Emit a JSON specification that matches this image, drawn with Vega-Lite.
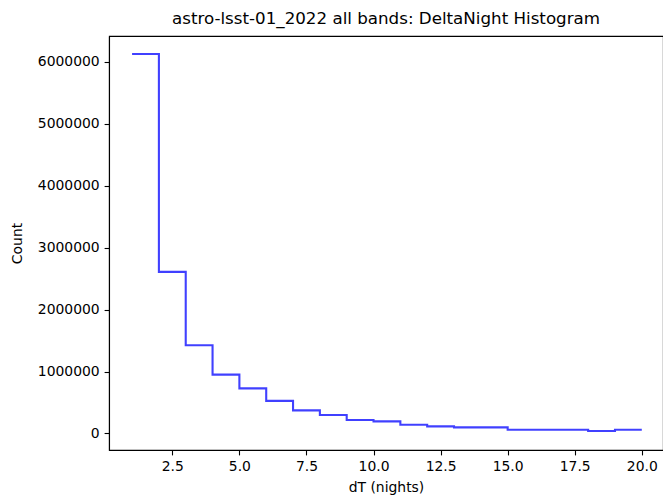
{
  "$schema": "https://vega.github.io/schema/vega-lite/v6.json",
  "autosize": "none",
  "width": 554,
  "height": 414,
  "padding": {"left": 109, "top": 36, "right": 0, "bottom": 46},
  "background": "white",
  "title": {"text": "astro-lsst-01_2022 all bands: DeltaNight Histogram", "fontSize": 16.7, "fontWeight": "normal", "font": "DejaVu Sans", "color": "black", "offset": 8, "anchor": "middle"},
  "config": {
    "view": {"stroke": "black", "strokeWidth": 1.1},
    "axis": {"labelFont": "DejaVu Sans", "titleFont": "DejaVu Sans", "labelFontSize": 13.9, "titleFontSize": 13.9, "titleFontWeight": "normal", "labelColor": "black", "titleColor": "black", "domainColor": "black", "tickColor": "black", "tickSize": 4.9, "labelPadding": 4.9, "grid": false, "domainWidth": 1.1, "tickWidth": 1.1}
  },
  "data": {"values": [
    {"dT": 1, "count": 6130000},
    {"dT": 2, "count": 2610000},
    {"dT": 3, "count": 1423000},
    {"dT": 4, "count": 949000},
    {"dT": 5, "count": 728000},
    {"dT": 6, "count": 526000},
    {"dT": 7, "count": 372000},
    {"dT": 8, "count": 298000},
    {"dT": 9, "count": 217000},
    {"dT": 10, "count": 194000},
    {"dT": 11, "count": 141000},
    {"dT": 12, "count": 113000},
    {"dT": 13, "count": 97000},
    {"dT": 14, "count": 97000},
    {"dT": 15, "count": 60000},
    {"dT": 16, "count": 60000},
    {"dT": 17, "count": 60000},
    {"dT": 18, "count": 39000},
    {"dT": 19, "count": 60000},
    {"dT": 20, "count": 60000}
  ]},
  "mark": {"type": "line", "interpolate": "step-after", "color": "#0000ff", "opacity": 0.75, "strokeWidth": 2.1, "clip": true},
  "encoding": {
    "x": {"field": "dT", "type": "quantitative", "scale": {"domain": [0.14, 20.79], "nice": false, "zero": false},
      "axis": {"values": [2.5, 5, 7.5, 10, 12.5, 15, 17.5, 20], "format": ".1f", "title": "dT (nights)", "titlePadding": 7}},
    "y": {"field": "count", "type": "quantitative", "scale": {"domain": [-268000, 6420000], "nice": false, "zero": false},
      "axis": {"values": [0, 1000000, 2000000, 3000000, 4000000, 5000000, 6000000], "format": "d", "title": "Count", "titleX": -92, "titleBaseline": "middle"}}
  }
}
